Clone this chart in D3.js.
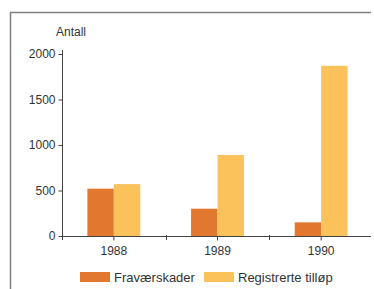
<!DOCTYPE html>
<html>
<head>
<meta charset="utf-8">
<script src="https://cdn.jsdelivr.net/npm/d3@7"></script>
<style>
  html, body { margin: 0; padding: 0; background: #fff; overflow: hidden; }
  svg { display: block; }
  text { font-family: "Liberation Sans", Arial, sans-serif; fill: #333; }
</style>
</head>
<body>
<div id="chart-area"></div>
<script>
let width = 374,
    height = 289;

// data
let years = ["1988", "1989", "1990"];
let series = ["Fraværskader", "Registrerte tilløp"];
let fravaer = [520, 300, 150];
let tillop = [570, 890, 1870];
let yTicks = [0, 500, 1000, 1500, 2000];
let colors = ["#e2772f", "#fbc15b"];

let svg = d3.select("#chart-area").append("svg")
  .attr("width", width)
  .attr("height", height);

// frame (left and top edges only)
svg.append("line")
  .attr("x1", 10.5).attr("x2", 10.5)
  .attr("y1", 12).attr("y2", height)
  .attr("stroke", "#808080")
  .attr("stroke-width", 1.5);
svg.append("line")
  .attr("x1", 10).attr("x2", 371)
  .attr("y1", 12.5).attr("y2", 12.5)
  .attr("stroke", "#808080")
  .attr("stroke-width", 1.5);

let x = d3.scaleBand()
  .domain(years)
  .range([62, 373])
  .paddingInner(0.49)
  .paddingOuter(0.245);

let x1 = d3.scaleBand()
  .domain(series)
  .range([0, x.bandwidth()]);

let y = d3.scaleLinear()
  .domain([0, 2000])
  .range([236, 54]);

let data = years.map((yr, i) => ({ year: yr, values: [fravaer[i], tillop[i]] }));

// bars
let groups = svg.selectAll(".group")
  .data(data)
  .enter()
  .append("g")
  .attr("class", "group")
  .attr("transform", d => "translate(" + x(d.year) + ",0)");

groups.selectAll("rect")
  .data(d => d.values.map((v, j) => ({ key: series[j], value: v, j: j })))
  .enter()
  .append("rect")
  .attr("x", d => x1(d.key))
  .attr("width", x1.bandwidth())
  .attr("y", d => y(d.value))
  .attr("height", d => y(0) - y(d.value))
  .attr("fill", d => colors[d.j]);

// y axis
let yAxis = svg.append("g")
  .attr("transform", "translate(62.5,0)")
  .call(d3.axisLeft(y).tickValues(yTicks).tickFormat(d3.format("d"))
    .tickSize(4).tickPadding(3).tickSizeOuter(0));
yAxis.select(".domain").attr("d", "M0," + (y(2000) - 4) + "V" + (y(0) + 4));
yAxis.selectAll("text").style("font-size", "12px");
yAxis.selectAll("line, .domain").attr("stroke", "#444");

// x axis
let xAxis = svg.append("g")
  .attr("transform", "translate(0," + (y(0) + 0.5) + ")")
  .call(d3.axisBottom(x).tickSize(4).tickPadding(6).tickSizeOuter(0));
xAxis.select(".domain").attr("d", "M62,0H371");
xAxis.selectAll("text").style("font-size", "12px");
xAxis.selectAll("line, .domain").attr("stroke", "#444");

// boundary ticks between groups
let step = x.step();
svg.selectAll(".btick")
  .data(years.slice(1))
  .enter()
  .append("line")
  .attr("class", "btick")
  .attr("x1", d => Math.round(x(d) - x.paddingInner() * step / 2) + 0.5)
  .attr("x2", d => Math.round(x(d) - x.paddingInner() * step / 2) + 0.5)
  .attr("y1", y(0) - 1)
  .attr("y2", y(0) + 4)
  .attr("stroke", "#444");

// axis title
svg.append("text")
  .attr("x", 71)
  .attr("y", 36)
  .attr("text-anchor", "middle")
  .style("font-size", "12px")
  .text("Antall");

// legend
let legendX = [80, 204];
let legend = svg.selectAll(".legend")
  .data(series)
  .enter()
  .append("g")
  .attr("class", "legend")
  .attr("transform", (d, i) => "translate(" + legendX[i] + ",272)");

legend.append("rect")
  .attr("width", 30)
  .attr("height", 10)
  .attr("fill", (d, i) => colors[i]);

legend.append("text")
  .attr("x", 34)
  .attr("y", 10)
  .style("font-size", "13px")
  .text(d => d);
</script>
</body>
</html>
